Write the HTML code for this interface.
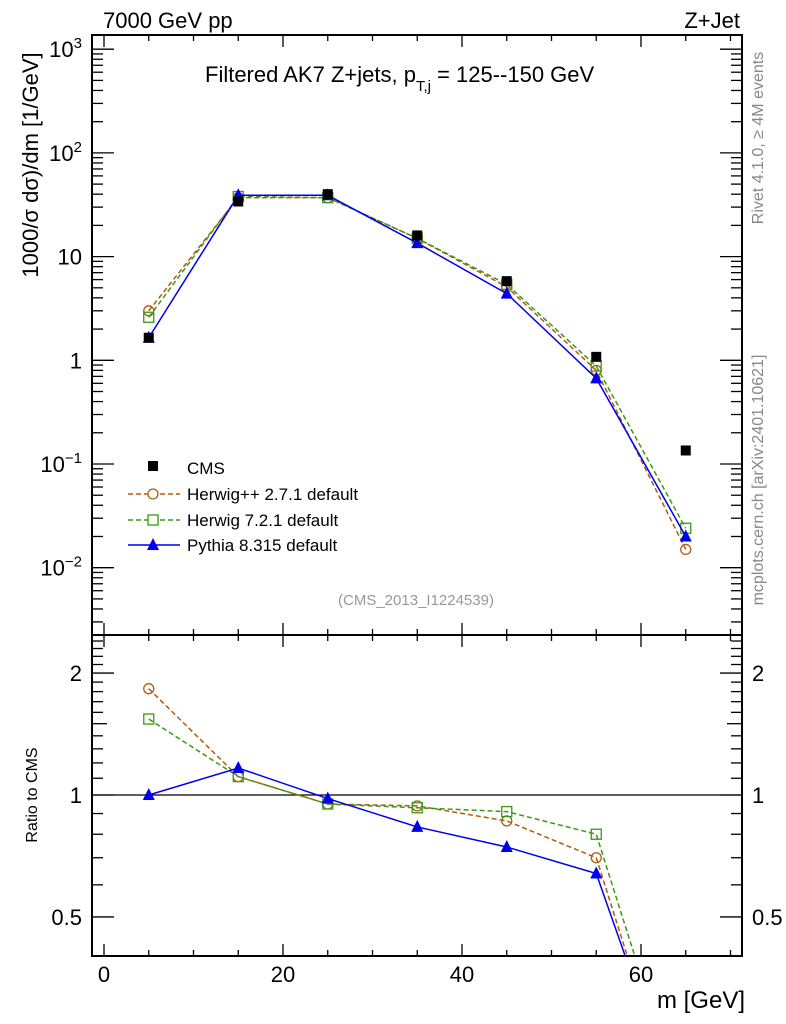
<!DOCTYPE html>
<html><head><meta charset="utf-8"><style>
html,body{margin:0;background:#fff;overflow:hidden;width:786px;height:1024px;}
svg{display:block;font-family:"Liberation Sans",sans-serif;}
</style></head><body>
<svg id="c" width="786" height="1024" viewBox="0 0 786 1024"></svg>
<script>
const xs=[5,15,25,35,45,55,65];
const cms=[1.65,34,40,16,5.8,1.08,0.135];
const herwigpp=[3.0,37,37,15,5.1,0.8,0.015];
const herwig7=[2.6,38,37,15,5.4,0.88,0.024];
const pythia=[1.65,39,39,13.5,4.4,0.67,0.020];
const rHerwigpp=[1.83,1.11,0.95,0.94,0.863,0.70,0.14];
const rHerwig7=[1.54,1.11,0.95,0.93,0.91,0.80,0.16];
const rPythia=[1.0,1.166,0.98,0.834,0.744,0.64,0.15];
const xTicks=[0,20,40,60];
const yTicks=[-2,-1,0,1,2,3];
const rTicks=[0.5,1,2];

const NS="http://www.w3.org/2000/svg";
const svg=document.getElementById('c');
const L=92,R=742,T=35,MB=635,RB=956;
const X=v=>104+(v)*8.95;
const Y=v=>360.3-Math.log10(v)*103.7;
const RY=v=>795-Math.log10(v)*405;
function el(tag,attrs,parent){const e=document.createElementNS(NS,tag);for(const k in attrs)e.setAttribute(k,attrs[k]);(parent||svg).appendChild(e);return e;}
function txt(s,attrs,parent){const e=el('text',attrs,parent);e.textContent=s;return e;}

const defs=el('defs',{});
const c1=el('clipPath',{id:'cm'},defs);el('rect',{x:L,y:T,width:R-L,height:MB-T},c1);
const c2=el('clipPath',{id:'cr'},defs);el('rect',{x:L,y:MB,width:R-L,height:RB-MB},c2);

const fm=el('rect',{x:L,y:T,width:R-L,height:MB-T,fill:'none',stroke:'#000','stroke-width':2});


const fr=el('rect',{x:L,y:MB,width:R-L,height:RB-MB,fill:'none',stroke:'#000','stroke-width':2});



const tg=el('g',{stroke:'#000','stroke-width':1.3});


for(let v=0;v<=70;v+=5){const x=X(v);const maj=v%20===0;const len=maj?12:6;
 [[T,1],[MB,-1],[MB,1],[RB,-1]].forEach(([y,d])=>el('line',{x1:x,x2:x,y1:y,y2:y+d*len},tg));}
xTicks.forEach(v=>{const t=txt(String(v),{x:X(v),y:982,'font-size':22,'text-anchor':'middle'});
 
 });
for(let d=-3;d<=3;d++){for(let m=1;m<10;m++){const v=m*Math.pow(10,d);const y=Y(v);if(y<T||y>MB)continue;const len=m===1?22:11;
 el('line',{x1:L,x2:L+len,y1:y,y2:y},tg);el('line',{x1:R,x2:R-len,y1:y,y2:y},tg);}}
const ylab={'-2':['10','−2'],'-1':['10','−1'],'0':['1',''],'1':['10',''],'2':['10','2'],'3':['10','3']};
yTicks.forEach(d=>{const [b,s]=ylab[d];const t=txt('',{x:82,y:Y(Math.pow(10,d))+8,'font-size':22,'text-anchor':'end'});
 
 
 const a=el('tspan',{},t);a.textContent=b;if(s){const sp=el('tspan',{dy:-9,'font-size':15},t);sp.textContent=s;}});
[0.4,0.5,0.6,0.7,0.8,0.9,1,1.1,1.2,1.3,1.4,1.5,1.6,1.7,1.8,1.9,2,2.1,2.2,2.3,2.4].forEach(v=>{const y=RY(v);if(y<MB||y>RB)return;
 const maj=(v===0.5||v===1||v===2);const len=maj?22:(v===1.5?15:11);
 el('line',{x1:L,x2:L+len,y1:y,y2:y},tg);el('line',{x1:R,x2:R-len,y1:y,y2:y},tg);});
rTicks.forEach(v=>{[[82,'end'],[752,'start']].forEach(([x,a])=>{const t=txt(String(v),{x:x,y:RY(v)+8,'font-size':22,'text-anchor':a});
 
 });});
const ref=el('line',{x1:L,x2:R,y1:RY(1),y2:RY(1),stroke:'#000','stroke-width':1.3});



function series(vals,fy,color,dash,marker,clip,name){
 const g=el('g',{'clip-path':'url(#'+clip+')'});
 
 
 const pts=xs.map((x,i)=>X(x)+','+fy(vals[i])).join(' ');
 if(color) el('polyline',{points:pts,fill:'none',stroke:color,'stroke-width':1.5,'stroke-dasharray':dash||'none'},g);
 xs.forEach((x,i)=>{const cx=X(x),cy=fy(vals[i]);
  if(marker==='sq') el('rect',{x:cx-5,y:cy-5,width:10,height:10,fill:'#000'},g);
  if(marker==='circ') el('circle',{cx:cx,cy:cy,r:5,fill:'none',stroke:color,'stroke-width':1.3},g);
  if(marker==='osq') el('rect',{x:cx-5,y:cy-5,width:10,height:10,fill:'none',stroke:color,'stroke-width':1.3},g);
  if(marker==='tri') el('polygon',{points:`${cx},${cy-7} ${cx-6},${cy+5} ${cx+6},${cy+5}`,fill:color},g);
 });
}
const BR='#b35a0f',GR='#3a9a12',BL='#0000ee';
series(herwigpp,Y,BR,'5,3','circ','cm','herwigpp-series');
series(herwig7,Y,GR,'5,3','osq','cm','herwig7-series');
series(pythia,Y,BL,null,'tri','cm','pythia-series');
series(cms,Y,null,null,'sq','cm','cms-data');
series(rHerwigpp,RY,BR,'5,3','circ','cr','herwigpp-ratio');
series(rHerwig7,RY,GR,'5,3','osq','cr','herwig7-ratio');
series(rPythia,RY,BL,null,'tri','cr','pythia-ratio');

const lg=el('g',{});


el('rect',{x:148,y:461,width:10,height:10,fill:'#000'},lg);
txt('CMS',{x:187,y:474,'font-size':17},lg);
el('line',{x1:128,x2:180,y1:494,y2:494,stroke:BR,'stroke-width':1.5,'stroke-dasharray':'5,3'},lg);
el('circle',{cx:153,cy:494,r:5,fill:'#fff',stroke:BR,'stroke-width':1.3},lg);
txt('Herwig++ 2.7.1 default',{x:187,y:500,'font-size':17},lg);
el('line',{x1:128,x2:180,y1:520,y2:520,stroke:GR,'stroke-width':1.5,'stroke-dasharray':'5,3'},lg);
el('rect',{x:148,y:515,width:10,height:10,fill:'#fff',stroke:GR,'stroke-width':1.3},lg);
txt('Herwig 7.2.1 default',{x:187,y:526,'font-size':17},lg);
el('line',{x1:128,x2:180,y1:545,y2:545,stroke:BL,'stroke-width':1.5},lg);
el('polygon',{points:'153,538 147,550 159,550',fill:BL},lg);
txt('Pythia 8.315 default',{x:187,y:551,'font-size':17},lg);

function label(s,a,name){const t=txt(s,a);return t;}
label('7000 GeV pp',{x:103,y:28,'font-size':22},'energy-label');
label('Z+Jet',{x:740,y:28,'font-size':22,'text-anchor':'end'},'process-label');
const ti=label('',{x:205,y:82,'font-size':22},'plot-title');
ti.innerHTML='Filtered AK7 Z+jets, p<tspan dy="9" font-size="15">T,j</tspan><tspan dy="-9"> = 125--150 GeV</tspan>';
label('(CMS_2013_I1224539)',{x:416,y:605,'font-size':15,fill:'#999','text-anchor':'middle'},'analysis-id');
label('m [GeV]',{x:745,y:1008,'font-size':24,'text-anchor':'end'},'x-axis-title');
label('Ratio to CMS',{x:0,y:0,'font-size':16,'text-anchor':'middle',transform:'translate(37,795) rotate(-90)'},'ratio-axis-title');
label('1000/σ   dσ)/dm [1/GeV]',{x:0,y:0,'font-size':22,'text-anchor':'middle',transform:'translate(38,165) rotate(-90)'},'y-axis-title');
label('Rivet 4.1.0, ≥ 4M events',{x:0,y:0,'font-size':16,fill:'#888','text-anchor':'middle',transform:'translate(763,138) rotate(-90)'},'rivet-label');
label('mcplots.cern.ch [arXiv:2401.10621]',{x:0,y:0,'font-size':16,fill:'#888','text-anchor':'middle',transform:'translate(763,480) rotate(-90)'},'mcplots-label');
</script>
</body></html>
